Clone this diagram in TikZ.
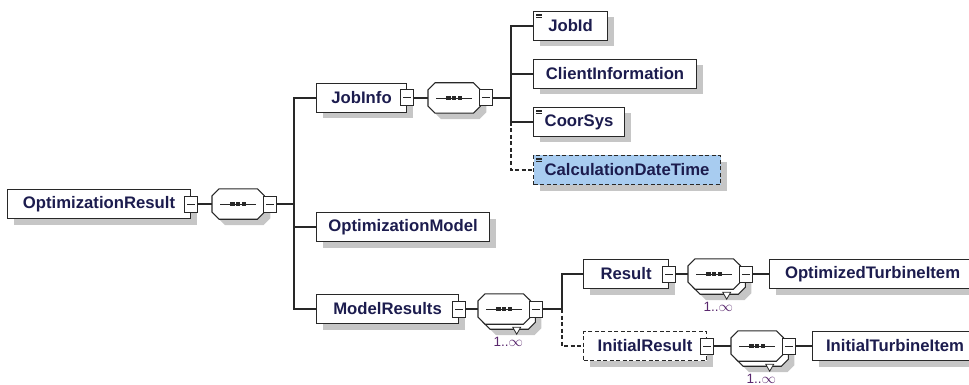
\documentclass[tikz,border=0pt]{standalone}
\usepackage{fontspec}
\setmainfont{Liberation Sans}
\usetikzlibrary{shadows}
\definecolor{elemtext}{RGB}{28,28,78}
\definecolor{occur}{RGB}{90,40,110}
\definecolor{optfill}{RGB}{168,204,240}
\definecolor{shade}{RGB}{198,198,198}
\definecolor{edge}{RGB}{40,40,40}
\tikzset{
  elem/.style={draw=edge, line width=1.1pt, fill=white, minimum height=29pt, inner sep=0pt, anchor=west,
    font=\bfseries\fontsize{16.7}{18}\selectfont, text=elemtext,
    drop shadow={shadow xshift=6pt, shadow yshift=-6pt, fill=shade, opacity=1}},
  optional/.style={dash pattern=on 4pt off 2.5pt},
  simple/.style={path picture={
    \foreach \k in {0,1,2}
      \draw[solid, line width=.6pt] ([shift={(2.5pt,-2.5pt-\k*1.7pt)}]path picture bounding box.north west) -- ++(5.5pt,0pt);}},
  minus/.style={draw=edge, line width=1pt, fill=white, minimum width=13pt, minimum height=16pt, inner sep=0pt,
    path picture={\draw[line width=1pt] ([xshift=2.5pt]path picture bounding box.west) -- ([xshift=-2.5pt]path picture bounding box.east);}},
  seqnode/.style={rectangle, minimum width=52pt, minimum height=30pt, inner sep=0pt, anchor=west},
  seqline/.style={draw=edge, fill=white, line width=1.1pt},
  seqshadow/.style={seqline, drop shadow={shadow xshift=6pt, shadow yshift=-6pt, fill=shade, opacity=1}},
  occ/.style={font=\fontsize{13.5}{14}\selectfont, text=occur, inner sep=0pt, anchor=north},
  notch/.style={draw=edge, fill=white, line width=.8pt},
  link/.style={draw=edge, line width=1.1pt},
}
% octagon of a sequence compositor round node #2
\newcommand\seqoct[2][seqshadow]{%
  \draw[#1] ([xshift=7pt]#2.north west) -- ([xshift=-7pt]#2.north east) -- ([yshift=-7pt]#2.north east)
    -- ([yshift=7pt]#2.south east) -- ([xshift=-7pt]#2.south east) -- ([xshift=7pt]#2.south west)
    -- ([yshift=7pt]#2.south west) -- ([yshift=-7pt]#2.north west) -- cycle;}
\newcommand\seqmark[1]{%
  \draw[edge, line width=.9pt] ([xshift=8pt]#1.west) -- ([xshift=-8pt]#1.east);
  \foreach \d in {-5.6,0,5.6}
    \fill[edge] ([xshift=\d pt]#1.center) ++(-2.2pt,-2pt) rectangle ++(4.4pt,4pt);}
\begin{document}
\begin{tikzpicture}[x=1pt, y=-1pt]
\useasboundingbox (0,0) rectangle (969,385);

% root
\node[elem, minimum width=183pt] (optres) at (7,204) {OptimizationResult};
\node[minus] (optresx) at (optres.east) {};
\node[seqnode] (seqa) at (212,204) {};
\seqoct{seqa} \seqmark{seqa}
\node[minus, anchor=west] (seqax) at ([xshift=-1pt]seqa.east) {};
\coordinate (b1) at (294,204);

% JobInfo
\node[elem, minimum width=90pt] (jobinfo) at (316,98) {JobInfo};
\node[minus] (jobinfox) at (jobinfo.east) {};
\node[seqnode] (seqb) at (428,98) {};
\seqoct{seqb} \seqmark{seqb}
\node[minus, anchor=west] (seqbx) at ([xshift=-1pt]seqb.east) {};
\coordinate (b2) at (511,98);
\node[elem, simple, minimum width=74pt] (jobid) at (533,26) {JobId};
\node[elem, minimum width=163pt] (clientinfo) at (533,74) {ClientInformation};
\node[elem, simple, minimum width=91pt] (coorsys) at (533,122) {CoorSys};
\node[elem, simple, optional, fill=optfill, minimum width=187pt] (calcdt) at (533,170) {CalculationDateTime};

\node[elem, minimum width=173pt] (optmodel) at (316,227) {OptimizationModel};

% ModelResults
\node[elem, minimum width=142pt] (modelres) at (316,309) {ModelResults};
\node[minus] (modelresx) at (modelres.east) {};
\node[seqnode] (seqcback) at (483,314) {};
\seqoct{seqcback}
\draw[notch] ([xshift=3.5pt,yshift=2pt]seqcback.south) -- ++(8pt,0pt) -- ++(-4pt,-7pt) -- cycle;
\node[seqnode] (seqc) at (478,309) {};
\seqoct[seqline]{seqc} \seqmark{seqc}
\node[minus, anchor=west] (seqcx) at ([xshift=-1pt]seqc.east) {};
\node[occ] (seqcocc) at ([xshift=4pt,yshift=-13pt]seqc.south) {1..$\infty$};
\coordinate (b3) at (562,309);

\node[elem, minimum width=85pt] (result) at (583,274) {Result};
\node[minus] (resultx) at (result.east) {};
\node[seqnode] (seqdback) at (693,279) {};
\seqoct{seqdback}
\draw[notch] ([xshift=3.5pt,yshift=2pt]seqdback.south) -- ++(8pt,0pt) -- ++(-4pt,-7pt) -- cycle;
\node[seqnode] (seqd) at (688,274) {};
\seqoct[seqline]{seqd} \seqmark{seqd}
\node[minus, anchor=west] (seqdx) at ([xshift=-1pt]seqd.east) {};
\node[occ] (seqdocc) at ([xshift=4pt,yshift=-13pt]seqd.south) {1..$\infty$};
\node[elem, minimum width=206pt] (optturb) at (769,274) {OptimizedTurbineItem};

\node[elem, optional, minimum width=123pt] (initres) at (583,346) {InitialResult};
\node[minus] (initresx) at (initres.east) {};
\node[seqnode] (seqeback) at (736,351) {};
\seqoct{seqeback}
\draw[notch] ([xshift=3.5pt,yshift=2pt]seqeback.south) -- ++(8pt,0pt) -- ++(-4pt,-7pt) -- cycle;
\node[seqnode] (seqe) at (731,346) {};
\seqoct[seqline]{seqe} \seqmark{seqe}
\node[minus, anchor=west] (seqex) at ([xshift=-1pt]seqe.east) {};
\node[occ] (seqeocc) at ([xshift=4pt,yshift=-13pt]seqe.south) {1..$\infty$};
\node[elem, minimum width=165pt] (initturb) at (812,346) {InitialTurbineItem};

% connectors
\draw[link] (optresx.east) -- (seqa.west);
\draw[link] (seqax.east) -- (b1);
\draw[link] (jobinfo.west) -- (jobinfo.west -| b1) -- (modelres.west -| b1) -- (modelres.west);
\draw[link] (optmodel.west) -- (optmodel.west -| b1);

\draw[link] (jobinfox.east) -- (seqb.west);
\draw[link] (seqbx.east) -- (b2);
\draw[link] (jobid.west) -- (jobid.west -| b2) -- (coorsys.west -| b2) -- (coorsys.west);
\draw[link] (clientinfo.west) -- (clientinfo.west -| b2);
\draw[link, optional] (coorsys.west -| b2) -- (calcdt.west -| b2) -- (calcdt.west);

\draw[link] (modelresx.east) -- (seqc.west);
\draw[link] (seqcx.east) -- (b3);
\draw[link] (result.west) -- (result.west -| b3) -- (b3);
\draw[link, optional] (b3) -- (initres.west -| b3) -- (initres.west);
\draw[link] (resultx.east) -- (seqd.west);
\draw[link] (seqdx.east) -- (optturb.west);
\draw[link] (initresx.east) -- (seqe.west);
\draw[link] (seqex.east) -- (initturb.west);
\end{tikzpicture}
\end{document}
